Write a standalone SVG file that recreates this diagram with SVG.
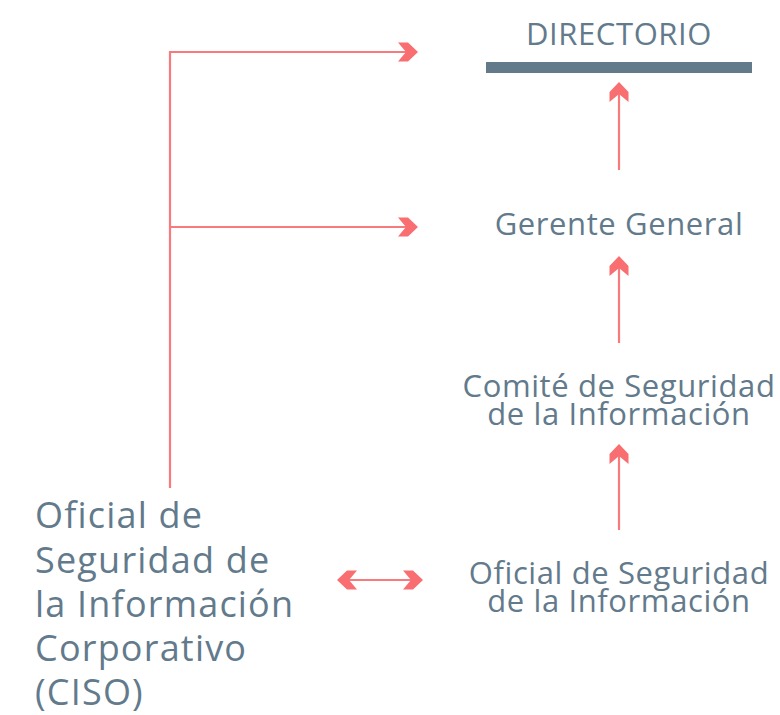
<svg xmlns="http://www.w3.org/2000/svg" width="780" height="715" viewBox="0 0 780 715">
<style>
.t{font-family:"Open Sans","Noto Sans",sans-serif;fill:#627a8b;}
.c{text-anchor:middle;font-size:31px;letter-spacing:0.6px;}
.l{font-size:36px;letter-spacing:1.2px;}
.ln{stroke:#f87a7c;stroke-width:2.2;fill:none;}
</style>
<defs>
<marker id="ah" viewBox="0 -10 20 20" refX="19" refY="0" markerWidth="20" markerHeight="20" markerUnits="userSpaceOnUse" orient="auto-start-reverse">
<path d="M0,-9.5 L10,-9.5 L20,0 L10,9.5 L0,9.5 L8,0 Z" fill="#f96e70"/>
</marker>
</defs>
<rect width="780" height="715" fill="#ffffff"/>
<g id="connectors">
<path class="ln" d="M170,488 L170,52 L417,52" marker-end="url(#ah)"/>
<path class="ln" d="M170,227 L417,227" marker-end="url(#ah)"/>
<path class="ln" d="M619,170 L619,83" marker-end="url(#ah)"/>
<path class="ln" d="M619,343 L619,257" marker-end="url(#ah)"/>
<path class="ln" d="M619,530 L619,445" marker-end="url(#ah)"/>
<path class="ln" d="M338,580 L422,580" marker-start="url(#ah)" marker-end="url(#ah)"/>
</g>
<g id="directorio">
<text class="t c" x="619" y="45">DIRECTORIO</text>
<rect x="486" y="62" width="266" height="11" fill="#627a89"/>
</g>
<g id="gerente">
<text class="t c" x="619" y="235">Gerente General</text>
</g>
<g id="comite">
<text class="t c"><tspan x="619" y="397">Comité de Seguridad</tspan><tspan x="619" y="425">de la Información</tspan></text>
</g>
<g id="oficial">
<text class="t c"><tspan x="619" y="584">Oficial de Seguridad</tspan><tspan x="619" y="612">de la Información</tspan></text>
</g>
<g id="ciso">
<text class="t l"><tspan x="35" y="528">Oficial de</tspan><tspan x="35" y="573">Seguridad de</tspan><tspan x="35" y="617">la Información</tspan><tspan x="35" y="661">Corporativo</tspan><tspan x="35" y="705">(CISO)</tspan></text>
</g>
</svg>
